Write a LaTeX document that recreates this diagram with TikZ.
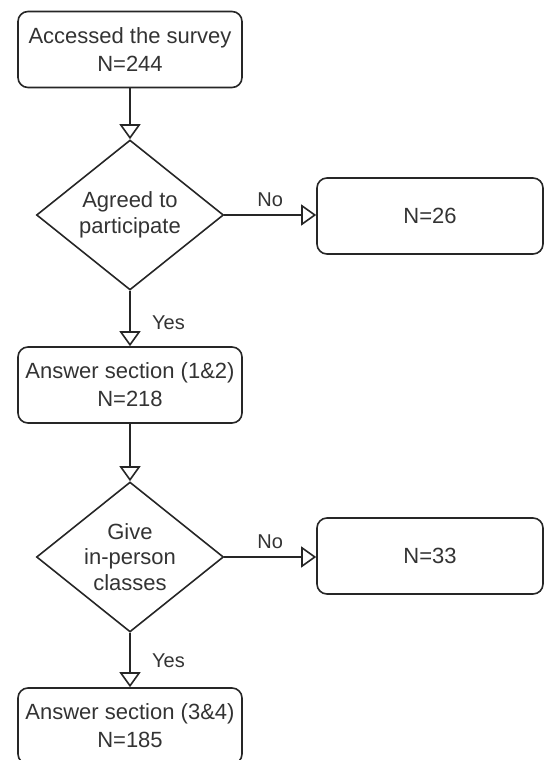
\documentclass[tikz,border=0pt]{standalone}
\usepackage{fontspec}
\setmainfont{Liberation Sans}
\usetikzlibrary{shapes.geometric,arrows.meta}

\begin{document}
\begin{tikzpicture}[x=1pt,y=-1pt,line width=1.6pt,
    box/.style={draw=black!85,rounded corners=10pt,minimum width=224pt,minimum height=76pt,
        inner sep=0pt,align=center,text=black!80,font=\fontsize{22}{28}\selectfont},
    decision/.style={draw=black!85,diamond,aspect=1.25,minimum width=187pt,minimum height=150pt,inner sep=0pt},
    dtext/.style={align=center,text=black!80,font=\fontsize{22}{25.5}\selectfont},
    lbl/.style={text=black!80,font=\fontsize{20}{24}\selectfont},
    flow/.style={draw=black!85,-{Triangle[open,length=15pt,width=21pt]}}]
    \clip (0,0) rectangle (545,760);

    % main column
    \node[box] (access) at (130,49.5) {Accessed the survey\\N=244};
    \node[decision] (agree) at (130,215) {};
    \node[dtext] (agreetxt) at (agree) {Agreed to\\participate};
    \node[box] (sec12) at (130,385) {Answer section (1\&2)\\N=218};
    \node[decision] (inperson) at (130,557) {};
    \node[dtext] (inpersontxt) at (inperson) {Give\\in-person\\classes};
    \node[box] (sec34) at (130,726) {Answer section (3\&4)\\N=185};

    % excluded
    \node[box,minimum width=226pt] (excl1) at (430,216) {N=26};
    \node[box,minimum width=226pt] (excl2) at (430,556) {N=33};

    % arrows
    \draw[flow] (access) -- (agree);
    \draw[flow] (agree) -- node[lbl,pos=.57,right=18pt] (yes1) {Yes} (sec12);
    \draw[flow] (agree.east) -- node[lbl,above=4pt] (no1) {No} (agree.east -| excl1.west);
    \draw[flow] (sec12) -- (inperson);
    \draw[flow] (inperson) -- node[lbl,pos=.52,right=18pt] (yes2) {Yes} (sec34);
    \draw[flow] (inperson.east) -- node[lbl,above=4pt] (no2) {No} (inperson.east -| excl2.west);
\end{tikzpicture}
\end{document}
